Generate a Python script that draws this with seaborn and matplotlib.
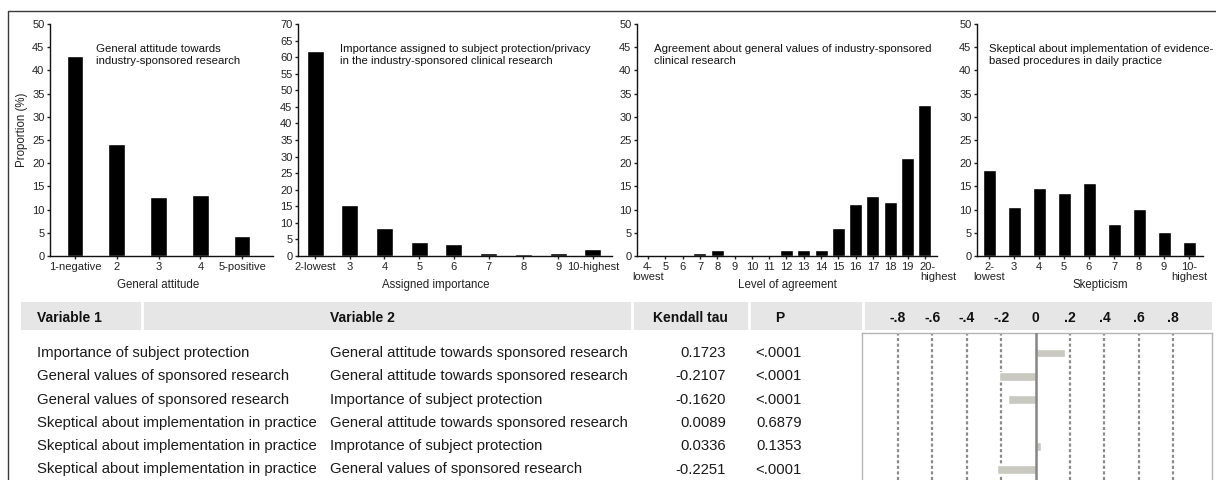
import numpy as np
import matplotlib.pyplot as plt
import matplotlib.transforms as mtransforms
import seaborn as sns
from matplotlib.patches import Rectangle

sns.set_theme(style="ticks")
plt.rcParams["font.family"] = ["Liberation Sans", "DejaVu Sans"]

# histogramas (proporción en %)
attitude_labels = ["1-negative", "2", "3", "4", "5-positive"]
attitude_pct = [43.0, 24.2, 12.7, 13.1, 4.3]

importance_labels = ["2-lowest", "3", "4", "5", "6", "7", "8", "9", "10-highest"]
importance_pct = [62.0, 15.4, 8.5, 4.1, 3.7, 0.8, 0.5, 0.8, 2.0]

agreement_labels = ["4-\nlowest", "5", "6", "7", "8", "9", "10", "11", "12", "13",
                    "14", "15", "16", "17", "18", "19", "20-\nhighest"]
agreement_pct = [0, 0, 0, 0.6, 1.3, 0, 0, 0, 1.3, 1.3, 1.3, 6.0, 11.2, 12.9, 11.6, 21.2, 32.5]

skeptic_labels = ["2-\nlowest", "3", "4", "5", "6", "7", "8", "9", "10-\nhighest"]
skeptic_pct = [18.5, 10.6, 14.7, 13.5, 15.7, 6.9, 10.1, 5.2, 3.1]

# tabla de correlaciones
var1 = ["Importance of subject protection",
        "General values of sponsored research",
        "General values of sponsored research",
        "Skeptical about implementation in practice",
        "Skeptical about implementation in practice",
        "Skeptical about implementation in practice"]
var2 = ["General attitude towards sponsored research",
        "General attitude towards sponsored research",
        "Importance of subject protection",
        "General attitude towards sponsored research",
        "Improtance of subject protection",
        "General values of sponsored research"]
kendall_tau = [0.1723, -0.2107, -0.1620, 0.0089, 0.0336, -0.2251]
p_values = ["<.0001", "<.0001", "<.0001", "0.6879", "0.1353", "<.0001"]
forest_ticks = [-0.8, -0.6, -0.4, -0.2, 0, 0.2, 0.4, 0.6, 0.8]
forest_tick_labels = ["-.8", "-.6", "-.4", "-.2", "0", ".2", ".4", ".6", ".8"]

W, H = 1216, 480
fig = plt.figure(figsize=(12.16, 4.8), dpi=100)


def px_axes(left, top, right, bottom, **kw):
    return fig.add_axes([left / W, 1 - bottom / H, (right - left) / W, (bottom - top) / H], **kw)


# fondo: marco, cabecera de la tabla y textos
bg = px_axes(0, 0, W, H, zorder=-1)
bg.set_xlim(0, W)
bg.set_ylim(H, 0)
bg.axis("off")
bg.plot([8, 8, W], [H, 10.5, 10.5], color="#3a3a3a", lw=1)
bg.add_patch(Rectangle((21, 302), 1212 - 21, 28, color="#e6e6e6", lw=0))
for xs in [142, 632, 749, 863]:
    bg.plot([xs, xs], [302, 330], color="white", lw=2)

hdr = dict(fontsize=10, fontweight="bold", va="center", color="#111")
bg.text(37, 318, "Variable 1", **hdr)
bg.text(330, 318, "Variable 2", **hdr)
bg.text(690, 318, "Kendall tau", ha="center", **hdr)
bg.text(780, 318, "P", ha="center", **hdr)

row_y = 353 + 23.3 * np.arange(len(var1))
for i in range(len(var1)):
    kw = dict(fontsize=10.7, va="center", color="#1a1a1a")
    bg.text(37, row_y[i], var1[i], **kw)
    bg.text(330, row_y[i], var2[i], **kw)
    bg.text(726, row_y[i], f"{kendall_tau[i]:.4f}", ha="right", **kw)
    bg.text(802, row_y[i], p_values[i], ha="right", **kw)

# paneles superiores
panels = [
    (attitude_labels, attitude_pct, 50, 0.4, (-0.6, 4.74), (50, 273), "General attitude", 0.484,
     "General attitude towards\nindustry-sponsored research", 0.206),
    (importance_labels, importance_pct, 70, 0.49, (-0.49, 8.55), (298, 612), "Assigned importance", 0.44,
     "Importance assigned to subject protection/privacy\nin the industry-sponsored clinical research", 0.134),
    (agreement_labels, agreement_pct, 50, 0.75, (-0.64, 16.7), (637, 937), "Level of agreement", 0.5,
     "Agreement about general values of industry-sponsored\nclinical research", 0.057),
    (skeptic_labels, skeptic_pct, 50, 0.52, (-0.48, 8.56), (977, 1203), "Skepticism", 0.545,
     "Skeptical about implementation of evidence-\nbased procedures in daily practice", 0.053),
]

for k, (labels, vals, ymax, w, xlim, (l, r), xlab, lx, title, tx) in enumerate(panels):
    ax = px_axes(l, 24, r, 256)
    sns.barplot(x=labels, y=vals, color="black", saturation=1, width=w, ax=ax)
    ax.set_xlim(*xlim)
    ax.set_ylim(0, ymax)
    ax.set_yticks(np.arange(0, ymax + 1, 5))
    sns.despine(ax=ax)
    for s in ["left", "bottom"]:
        ax.spines[s].set_color("#111")
        ax.spines[s].set_linewidth(1)
    ax.tick_params(length=2.5, width=1, labelsize=8, colors="#222", pad=1.5)
    for lab in ax.get_xticklabels():
        lab.set_linespacing(1.05)
    if k == 2:
        # "20-highest" alineado a la izquierda como en el original
        last = ax.get_xticklabels()[-1]
        last.set_horizontalalignment("left")
        last.set_multialignment("left")
        last.set_transform(last.get_transform() +
                           mtransforms.ScaledTranslation(-0.05, 0, fig.dpi_scale_trans))
    ax.set_xlabel(xlab, fontsize=8.3, color="#222")
    ax.xaxis.set_label_coords(lx, -0.125)
    ax.xaxis.label.set_va("center")
    ax.set_ylabel("Proportion (%)" if k == 0 else "", fontsize=8.3, color="#222")
    if k == 0:
        ax.yaxis.set_label_coords(-0.125, 0.543)
        ax.yaxis.label.set_va("center")
    ax.text(tx, 0.866, title, transform=ax.transAxes, fontsize=8.2, va="center",
            linespacing=1.3, color="#111")

# gráfico de barras de Kendall tau
fx = px_axes(862, 333, 1212, 480)
sns.barplot(x=kendall_tau, y=list(range(len(kendall_tau))), orient="h", color="#c9c9c1",
            saturation=1, width=0.38, ax=fx, zorder=2)
fx.set_xlim(-1.01, 1.026)
fx.set_ylim(5.45, -0.86)
for v in forest_ticks:
    if v != 0:
        fx.axvline(v, color="#8a8a8a", lw=1.6, ls=(0, (1.4, 1.1)), zorder=0.5)
fx.axvline(0, color="#858585", lw=1.8, zorder=3)
fx.set_yticks([])
fx.set_ylabel("")
fx.xaxis.tick_top()
fx.set_xticks(forest_ticks, forest_tick_labels)
fx.tick_params(axis="x", length=0, pad=6, labelsize=10, colors="#111")
for lab in fx.get_xticklabels():
    lab.set_fontweight("bold")
for s in fx.spines.values():
    s.set_color("#b5b5b5")
    s.set_linewidth(1)
fx.spines["bottom"].set_visible(False)

fig.savefig("out.png", dpi=100)
